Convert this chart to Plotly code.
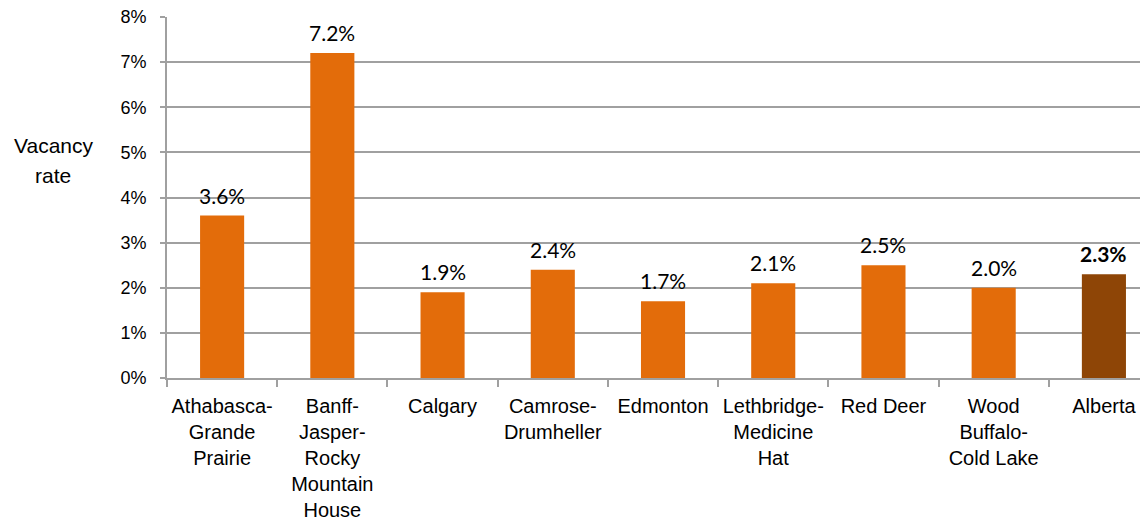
import plotly.graph_objects as go

categories = [
    "Athabasca-<br>Grande<br>Prairie",
    "Banff-<br>Jasper-<br>Rocky<br>Mountain<br>House",
    "Calgary",
    "Camrose-<br>Drumheller",
    "Edmonton",
    "Lethbridge-<br>Medicine<br>Hat",
    "Red Deer",
    "Wood<br>Buffalo-<br>Cold Lake",
    "Alberta",
]
vacancy_rate = [3.6, 7.2, 1.9, 2.4, 1.7, 2.1, 2.5, 2.0, 2.3]
highlight = "Alberta"
y_ticks = [0, 1, 2, 3, 4, 5, 6, 7, 8]
y_title_lines = ["Vacancy", "rate"]

ORANGE = "#E36C0A"
BROWN = "#8E4506"
GRID = "#A0A0A0"

colors = [BROWN if c == highlight else ORANGE for c in categories]

fig = go.Figure(
    go.Bar(
        x=categories,
        y=vacancy_rate,
        marker=dict(color=colors, line=dict(width=0)),
        width=0.4,
        hoverinfo="skip",
    )
)

for c, v in zip(categories, vacancy_rate):
    label = f"<b>{v:.1f}%</b>" if c == highlight else f"{v:.1f}%"
    fig.add_annotation(
        x=c, y=v, xref="x", yref="y",
        text=label, showarrow=False,
        xanchor="center", yanchor="bottom", yshift=6,
        font=dict(family="Lato", size=21, color="#000000"),
    )

fig.update_layout(
    width=1148,
    height=527,
    margin=dict(l=159, r=8, t=9, b=157, autoexpand=False),
    paper_bgcolor="white",
    plot_bgcolor="white",
    showlegend=False,
    font=dict(family="Liberation Sans, Arial", color="#000000"),
)

fig.update_xaxes(
    type="category",
    range=[-0.5, 8.4],
    automargin=False,
    tickson="boundaries",
    ticks="outside",
    ticklen=7,
    tickwidth=1.5,
    tickcolor=GRID,
    showline=True,
    linecolor=GRID,
    linewidth=2,
    showgrid=False,
    tickfont=dict(size=20, family="Liberation Sans, Arial"),
    tickangle=0,
    ticklabelstandoff=9,
)

fig.update_yaxes(
    range=[0, 8],
    automargin=False,
    tickmode="array",
    tickvals=y_ticks,
    ticktext=[f"{t}%" for t in y_ticks],
    ticks="outside",
    ticklen=5,
    tickwidth=1.5,
    tickcolor=GRID,
    showline=True,
    linecolor=GRID,
    linewidth=2,
    showgrid=True,
    gridcolor=GRID,
    gridwidth=1.5,
    zeroline=False,
    ticklabeloverflow="allow",
    ticklabelstandoff=10,
    tickfont=dict(size=18, family="Liberation Sans, Arial"),
)

for line, ypos in zip(y_title_lines, [0.645, 0.56]):
    fig.add_annotation(
        text=line,
        xref="paper",
        yref="paper",
        x=-0.116,
        y=ypos,
        xanchor="center",
        yanchor="middle",
        showarrow=False,
        font=dict(size=21, family="Liberation Sans, Arial", color="#000000"),
    )

fig.write_html("out.html")
